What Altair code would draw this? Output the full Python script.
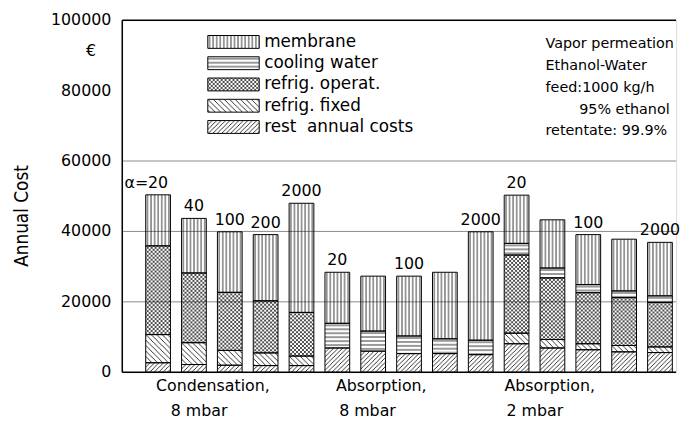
import base64
import pandas as pd
import altair as alt

# ---------------- data ----------------
bar_labels = ["20", "40", "100", "200", "2000",
              "20", "", "100", "", "2000",
              "20", "", "100", "", "2000"]
group_line1 = ["Condensation,", "Absorption,", "Absorption,"]
group_line2 = ["8 mbar", "8 mbar", "2 mbar"]
components = ["rest annual costs", "refrig. fixed", "refrig. operat.", "cooling water", "membrane"]
rest_annual = [2700, 2200, 2000, 1900, 1900, 6900, 6000, 5300, 5300, 5000, 8100, 6900, 6400, 5800, 5600]
refrig_fixed = [8000, 6200, 4200, 3600, 2700, 0, 0, 0, 0, 0, 3000, 2400, 1700, 1800, 1600]
refrig_operat = [25200, 19800, 16500, 14800, 12400, 0, 0, 0, 0, 0, 22200, 17500, 14500, 13600, 12600]
cooling_water = [0, 0, 0, 0, 0, 7000, 5700, 5000, 4200, 4100, 3300, 2800, 2300, 1900, 1900]
membrane = [14500, 15500, 17200, 18800, 31000, 14500, 15600, 17000, 18900, 30800, 13700, 13700, 14200, 14700, 15200]
y_ticks = [0, 20000, 40000, 60000, 80000, 100000]
grid_values = [20000, 40000, 60000]
top_value = [100000]
base_value = [0]
info_lines = ["Vapor permeation", "Ethanol-Water", "feed:1000 kg/h", "95% ethanol", "retentate: 99.9%"]
legend_order = ["membrane", "cooling water", "refrig. operat.", "refrig. fixed", "rest annual costs"]
legend_text = ["membrane", "cooling water", "refrig. operat.", "refrig. fixed", "rest\u00a0 annual costs"]

FONT = "DejaVu Sans"
W, H = 560, 356


# ---------------- hatch patterns (SVG images) ----------------
def pattern(inner, w, h):
    svg = ('<svg xmlns="http://www.w3.org/2000/svg" width="100%" height="100%">'
           '<defs><pattern id="p" patternUnits="userSpaceOnUse" width="{w}" height="{h}">{inner}</pattern></defs>'
           '<rect width="100%" height="100%" fill="url(#p)"/></svg>').format(w=w, h=h, inner=inner)
    return "data:image/svg+xml;base64," + base64.b64encode(svg.encode("utf-8")).decode("ascii")


ST = 'stroke="black" stroke-width="0.8" fill="none"'
PATTERNS = {
    "membrane": pattern('<path d="M1.8,0V10" %s/>' % ST, 3.6, 10),
    "cooling water": pattern('<path d="M0,2H10" %s/>' % ST, 10, 4),
    "refrig. operat.": pattern('<path d="M0,0L4,4M4,0L0,4" stroke="black" stroke-width="0.7" fill="none"/>', 4, 4),
    "refrig. fixed": pattern('<path d="M0,0L5.5,5.5M-1,4.5L1,6.5M4.5,-1L6.5,1" %s/>' % ST, 5.5, 5.5),
    "rest annual costs": pattern('<path d="M0,4.5L4.5,0M-1,1L1,-1M3.5,5.5L5.5,3.5" %s/>' % ST, 4.5, 4.5),
}

series = [rest_annual, refrig_fixed, refrig_operat, cooling_water, membrane]
rows = []
for i in range(len(bar_labels)):
    for k, (comp, vals) in enumerate(zip(components, series)):
        if vals[i] > 0:
            rows.append({"idx": i, "comp": comp, "order": k, "value": vals[i], "pat": PATTERNS[comp]})
df = pd.DataFrame(rows)

totals = [sum(s[i] for s in series) for i in range(len(bar_labels))]
lab_df = pd.DataFrame({"idx": list(range(len(bar_labels))), "label": bar_labels, "total": totals})
lab_df = lab_df[lab_df["label"] != ""]

xscale = alt.Scale(domain=[-1, 14.45], nice=False, zero=False)
yscale = alt.Scale(domain=[0, 100000], nice=False, zero=True)

layers = []

# grid lines, frame lines
layers.append(alt.Chart(pd.DataFrame({"g": grid_values})).mark_rule(color="#8a8a8a", strokeWidth=1)
              .encode(y=alt.Y("g:Q", scale=yscale, axis=None)))
layers.append(alt.Chart(pd.DataFrame({"g": top_value})).mark_rule(color="black", strokeWidth=1.5)
              .encode(y=alt.Y("g:Q", scale=yscale, axis=None)))

base = (alt.Chart(df)
        .transform_stack(stack="value", groupby=["idx"], sort=[alt.SortField("order", order="ascending")],
                         as_=["y0", "y1"])
        .transform_calculate(xl="datum.idx - 0.345", xr="datum.idx + 0.345"))

layers.append(base.mark_image(aspect=False).encode(
    x=alt.X("xl:Q", scale=xscale, axis=None), x2="xr:Q",
    y=alt.Y("y1:Q", scale=yscale, axis=None), y2="y0:Q",
    url="pat:N"))

layers.append(base.mark_rect(fillOpacity=0, stroke="black", strokeWidth=1).encode(
    x=alt.X("xl:Q", scale=xscale, axis=None), x2="xr:Q",
    y=alt.Y("y1:Q", scale=yscale, axis=None), y2="y0:Q"))

# axis lines (left and bottom)
layers.append(alt.Chart(pd.DataFrame({"g": base_value})).mark_rule(color="black", strokeWidth=1.5)
              .encode(y=alt.Y("g:Q", scale=yscale, axis=None)))
layers.append(alt.Chart(pd.DataFrame({"g": base_value})).mark_rule(color="black", strokeWidth=1.5)
              .encode(x=alt.value(0), y=alt.value(0), y2=alt.value(H)))

# y tick labels
layers.append(alt.Chart(pd.DataFrame({"t": y_ticks})).mark_text(font=FONT, fontSize=16, align="right",
                                                                 baseline="middle", color="black")
              .encode(x=alt.value(-11), y=alt.Y("t:Q", scale=yscale, axis=None), text=alt.Text("t:Q", format="d")))

# value labels above bars
layers.append(alt.Chart(lab_df).mark_text(font=FONT, fontSize=16, baseline="alphabetic", dy=-7, color="black")
              .encode(x=alt.X("idx:Q", scale=xscale, axis=None), y=alt.Y("total:Q", scale=yscale, axis=None),
                      text="label:N"))
layers.append(alt.Chart(lab_df).transform_filter("datum.idx == 0")
              .mark_text(font=FONT, fontSize=16, baseline="alphabetic", dy=-7, dx=-10, align="right",
                         text="α=", color="black")
              .encode(x=alt.X("idx:Q", scale=xscale, axis=None), y=alt.Y("total:Q", scale=yscale, axis=None)))

# group labels under the axis
dx1 = [-17, -28, -39]
dx2 = [-31, -42, -54]
for g in range(3):
    gdf = pd.DataFrame({"mid": [5 * g + 2], "l1": [group_line1[g]], "l2": [group_line2[g]]})
    layers.append(alt.Chart(gdf).mark_text(font=FONT, fontSize=16, dx=dx1[g], color="black", baseline="middle")
                  .encode(x=alt.X("mid:Q", scale=xscale, axis=None), y=alt.value(370), text="l1:N"))
    layers.append(alt.Chart(gdf).mark_text(font=FONT, fontSize=16, dx=dx2[g], color="black", baseline="middle")
                  .encode(x=alt.X("mid:Q", scale=xscale, axis=None), y=alt.value(395), text="l2:N"))

one = pd.DataFrame({"a": [0]})

# legend
for r, comp in enumerate(legend_order):
    yc = 22 + 21.5 * r
    layers.append(alt.Chart(one).mark_image(url=PATTERNS[comp], aspect=False).encode(
        x=alt.value(86.5), x2=alt.value(138.5), y=alt.value(yc - 6.5), y2=alt.value(yc + 6.5)))
    layers.append(alt.Chart(one).mark_rect(fillOpacity=0, stroke="black", strokeWidth=1).encode(
        x=alt.value(86.5), x2=alt.value(138.5), y=alt.value(yc - 6.5), y2=alt.value(yc + 6.5)))
    layers.append(alt.Chart(one).mark_text(text=legend_text[r], font=FONT, fontSize=17, align="left",
                                           baseline="middle", color="black")
                  .encode(x=alt.value(143.5), y=alt.value(yc)))

# info text
for r, line in enumerate(info_lines):
    xpos = 462 if line.startswith("95%") else 428
    layers.append(alt.Chart(one).mark_text(text=line, font=FONT, fontSize=14.5, align="left", baseline="middle",
                                           color="black").encode(x=alt.value(xpos), y=alt.value(24.5 + 22 * r)))

# euro sign and y title
layers.append(alt.Chart(one).mark_text(text="€", font=FONT, fontSize=16, baseline="middle", color="black")
              .encode(x=alt.value(-31.5), y=alt.value(31)))
layers.append(alt.Chart(one).mark_text(text="Annual Cost",
                                       font="Liberation Sans Narrow, DejaVu Sans Condensed, Liberation Sans",
                                       fontSize=19, angle=270, baseline="middle", color="black")
              .encode(x=alt.value(-101.5), y=alt.value(198)))

chart = (alt.layer(*layers)
         .properties(width=W, height=H,
                     autosize=alt.AutoSizeParams(type="none"),
                     padding={"left": 115.5, "top": 10, "right": 9, "bottom": 51})
         .configure_view(stroke=None)
         .configure(background="white"))

chart.save("out.html", embed_options={"renderer": "svg", "actions": False})
